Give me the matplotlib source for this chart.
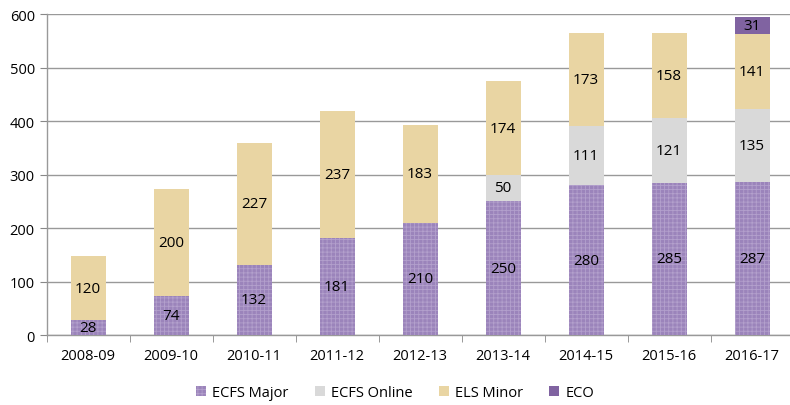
import matplotlib
matplotlib.use("Agg")
import matplotlib.pyplot as plt
import numpy as np

plt.rcParams['font.family'] = ['Open Sans', 'DejaVu Sans']
plt.rcParams['hatch.linewidth'] = 0.6

years = ['2008-09', '2009-10', '2010-11', '2011-12', '2012-13',
         '2013-14', '2014-15', '2015-16', '2016-17']
ecfs_major = [28, 74, 132, 181, 210, 250, 280, 285, 287]
ecfs_online = [0, 0, 0, 0, 0, 50, 111, 121, 135]
els_minor = [120, 200, 227, 237, 183, 174, 173, 158, 141]
eco = [0, 0, 0, 0, 0, 0, 0, 0, 31]

fig = plt.figure(figsize=(7.9, 4.06), dpi=100)
ax = fig.add_axes([0.059, 0.172, 0.9456, 0.791])

x = np.arange(len(years))
w = 0.42
b1 = ax.bar(x, ecfs_major, w, color='#9b84bb', edgecolor='#b3a0cc', linewidth=0,
            hatch='++++', label='ECFS Major', zorder=3)
bot = np.array(ecfs_major)
b2 = ax.bar(x, ecfs_online, w, bottom=bot, color='#d9d9d9', label='ECFS Online', zorder=3)
bot = bot + np.array(ecfs_online)
b3 = ax.bar(x, els_minor, w, bottom=bot, color='#e9d5a3', label='ELS Minor', zorder=3)
bot = bot + np.array(els_minor)
b4 = ax.bar(x, eco, w, bottom=bot, color='#8063a1', label='ECO', zorder=3)

for bars, vals in [(b1, ecfs_major), (b2, ecfs_online), (b3, els_minor), (b4, eco)]:
    for r, v in zip(bars, vals):
        if v == 0:
            continue
        ax.text(r.get_x() + r.get_width() / 2, r.get_y() + r.get_height() / 2, str(v),
                ha='center', va='center', fontsize=11, color='black', zorder=4)

ax.set_ylim(0, 600)
ax.set_yticks(range(0, 601, 100))
ax.set_xlim(-0.5, len(years) - 0.5)
ax.set_xticks(x)
ax.set_xticklabels(years)
ax.set_xticks(np.arange(-0.5, len(years)), minor=True)
ax.tick_params(axis='x', which='major', length=0, labelsize=10.5, pad=9)
ax.tick_params(axis='x', which='minor', length=5, color='#888888')
ax.tick_params(axis='y', length=5, color='#888888', labelsize=10.5)
ax.yaxis.grid(True, color='#999999', linewidth=1, zorder=0)
for s in ['top', 'right']:
    ax.spines[s].set_visible(False)
for s in ['left', 'bottom']:
    ax.spines[s].set_color('#999999')
    ax.spines[s].set_linewidth(1)

fig.legend(handles=[b1, b2, b3, b4], loc='lower center', bbox_to_anchor=(0.5, -0.02),
           ncol=4, frameon=False, fontsize=10.5, handlelength=0.7, handleheight=0.7,
           handletextpad=0.4, columnspacing=1.8)

fig.savefig('out.png', dpi=100)
